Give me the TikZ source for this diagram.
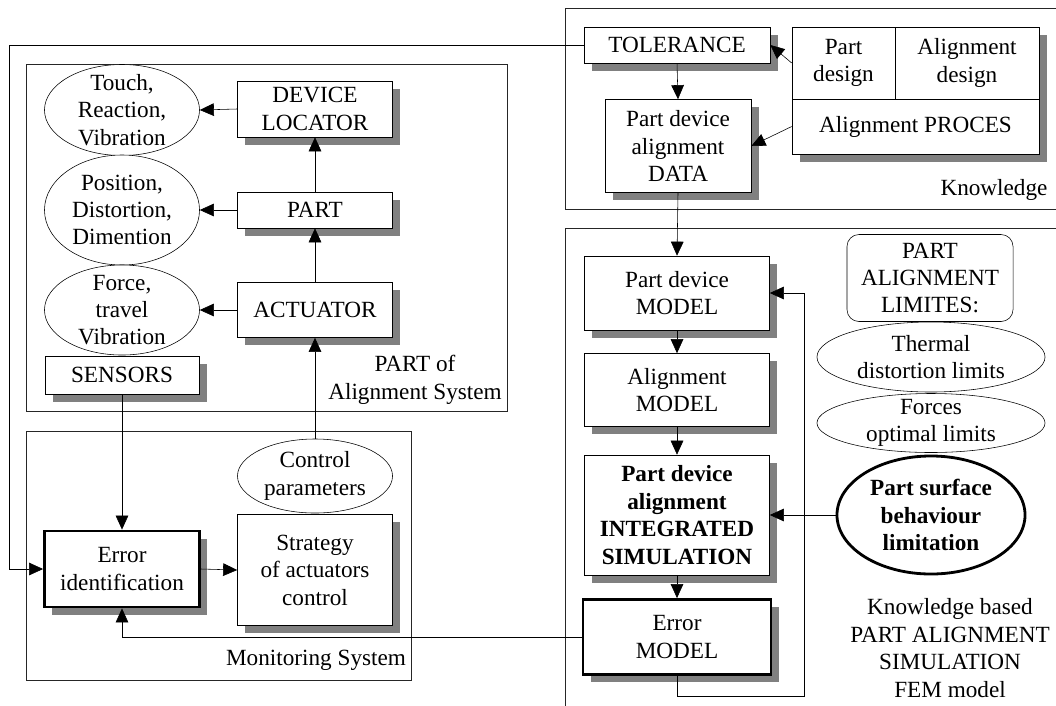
\documentclass[tikz,border=0pt]{standalone}
\usepackage{fontspec}
\setmainfont{Liberation Serif}
\usetikzlibrary{shapes.geometric,shadows,arrows.meta}
\definecolor{shadowgray}{RGB}{128,128,128}
\begin{document}
\begin{tikzpicture}[x=0.025cm,y=-0.025cm,
    font=\fontsize{16.5}{19.5}\selectfont,
    box/.style={draw,fill=white,align=center,inner sep=2pt,
        drop shadow={shadow xshift=0.19cm,shadow yshift=-0.19cm,
            fill=shadowgray,opacity=1}},
    thickbox/.style={box,line width=2pt},
    oval/.style={draw,ellipse,fill=white,inner sep=0pt},
    frame/.style={line width=0.6pt,black!85},
    arr/.style={-{Triangle[length=10pt,width=9pt]}},
    lbl/.style={align=center,inner sep=0pt}
]
    \useasboundingbox (0,0) rectangle (1056,705);

    % frames
    \draw[frame] (26,64) rectangle (507,411);
    \draw[frame] (26,431) rectangle (411,680);
    \draw[frame] (1060,8) -- (565,8) -- (565,209) -- (1060,209);
    \draw[frame] (1060,228) -- (565,228) -- (565,710);

    % part of alignment system
    \node[oval,minimum width=3.875cm,minimum height=2.275cm] (touch) at (122,110) {};
    \node[lbl] (touch-t) at (touch) {Touch,\\Reaction,\\Vibration};
    \node[oval,minimum width=3.875cm,minimum height=2.75cm] (position) at (122,210) {};
    \node[lbl] (position-t) at (position) {Position,\\Distortion,\\Dimention};
    \node[oval,minimum width=3.875cm,minimum height=2.25cm] (force) at (122,310) {};
    \node[lbl] (force-t) at (force) {Force,\\travel\\Vibration};
    \node[box,minimum width=3.875cm,minimum height=1.4cm] (devloc) at (315,109) {DEVICE\\LOCATOR};
    \node[box,minimum width=3.875cm,minimum height=0.9cm] (part) at (315,210) {PART};
    \node[box,minimum width=3.875cm,minimum height=1.375cm] (actuator) at (315,310) {ACTUATOR};
    \node[box,minimum width=3.85cm,minimum height=0.95cm] (sensors) at (122,375) {SENSORS};
    \node[lbl] (partsys) at (415,380) {PART of\\Alignment System};

    % monitoring system
    \node[oval,minimum width=3.875cm,minimum height=1.85cm] (ctrl) at (315,476) {};
    \node[lbl] (ctrl-t) at (ctrl) {Control\\parameters};
    \node[thickbox,minimum width=3.875cm,minimum height=1.9cm] (errid) at (122,569) {Error\\identification};
    \node[box,minimum width=3.875cm,minimum height=2.775cm] (strategy) at (315,570) {Strategy\\of actuators\\control};
    \node[lbl] (monsys) at (316,660) {Monitoring System};

    % knowledge
    \node[box,minimum width=4.65cm,minimum height=0.9cm] (tolerance) at (677,45) {TOLERANCE};
    \node[box,minimum width=2.575cm,minimum height=1.8cm] (partdesign) at (843.5,63) {Part\\design};
    \node[box,minimum width=3.6cm,minimum height=1.8cm] (aligndesign) at (967,63) {Alignment\\design};
    \node[box,minimum width=6.175cm,minimum height=1.375cm] (proces) at (915.5,126.5) {Alignment PROCES};
    \node[box,minimum width=3.65cm,minimum height=2.325cm] (data) at (678,146) {Part device\\alignment\\DATA};
    \node[lbl] (knowledge) at (994,190) {Knowledge};

    % simulation
    \node[box,minimum width=4.625cm,minimum height=1.85cm] (pdmodel) at (677,293) {Part device\\MODEL};
    \node[box,minimum width=4.625cm,minimum height=1.825cm] (almodel) at (677,390) {Alignment\\MODEL};
    \node[box,minimum width=4.625cm,minimum height=3cm,font=\fontsize{16.5}{19.5}\selectfont\bfseries] (integ) at (677,515)
        {Part device\\alignment\\INTEGRATED\\SIMULATION};
    \node[thickbox,minimum width=4.7cm,minimum height=1.875cm] (errmodel) at (677,637) {Error\\MODEL};
    \node[draw,rounded corners=0.3cm,align=center,minimum width=4.15cm,minimum height=2.175cm] (limites) at (930,278)
        {PART\\ALIGNMENT\\LIMITES:};
    \node[oval,minimum width=5.7cm,minimum height=1.75cm] (thermal) at (931,357) {};
    \node[lbl] (thermal-t) at (thermal) {Thermal\\distortion limits};
    \node[oval,minimum width=5.7cm,minimum height=1.475cm] (forces) at (931,423) {};
    \node[lbl] (forces-t) at (forces) {Forces\\optimal limits};
    \node[oval,line width=2pt,minimum width=4.7cm,minimum height=2.95cm] (surface) at (931,515) {};
    \node[lbl,font=\fontsize{16.5}{19.5}\selectfont\bfseries] (surface-t) at (surface) {Part surface\\behaviour\\limitation};
    \node[lbl] (fem) at (950,648) {Knowledge based\\PART ALIGNMENT\\SIMULATION\\FEM model};

    \coordinate (lcorner) at (9,45);
    \coordinate (loop) at (804,696);

    % connectors
    \draw[arr] (devloc.west) -- (touch.east);
    \draw[arr] (part.west) -- (position.east);
    \draw[arr] (actuator.west) -- (force.east);
    \draw[arr] (part.north) -- (devloc.south);
    \draw[arr] (actuator.north) -- (part.south);
    \draw[arr] (ctrl.north) -- (actuator.south);
    \draw[arr] (sensors.south) -- (errid.north);
    \draw[arr] (errid.east) -- (strategy.west);
    \draw[arr] (tolerance.west) -- (lcorner) |- (errid.west);
    \draw[arr] (errmodel.west) -| (errid.south);
    \draw[arr] (partdesign.west) -- (tolerance.east);
    \draw[arr] (proces.west) -- (data.east);
    \draw[arr] (tolerance.south) -- (data.north);
    \draw[arr] (data.south) -- (pdmodel.north);
    \draw[arr] (pdmodel.south) -- (almodel.north);
    \draw[arr] (almodel.south) -- (integ.north);
    \draw[arr] (integ.south) -- (errmodel.north);
    \draw[arr] (errmodel.south) |- (loop) |- (pdmodel.east);
    \draw[arr] (surface.west) -- (integ.east);

\end{tikzpicture}
\end{document}
